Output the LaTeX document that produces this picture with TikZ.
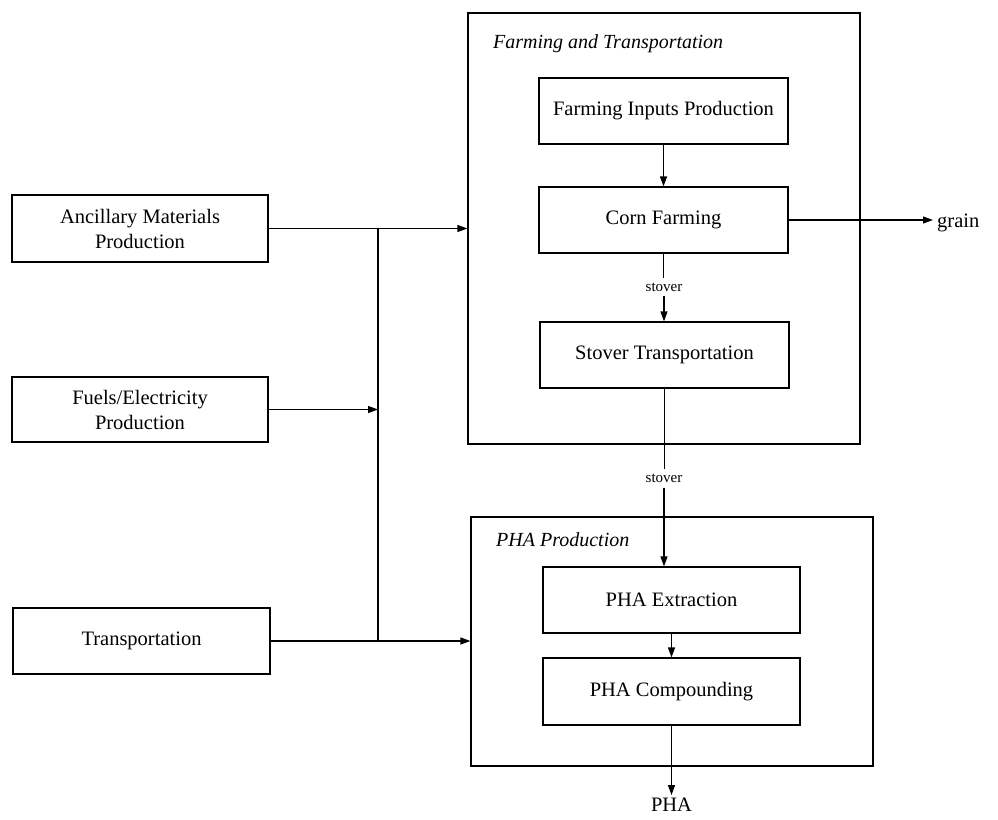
\documentclass[tikz,border=0pt]{standalone}
\usepackage{fontspec}
\setmainfont{Liberation Serif}
\usetikzlibrary{arrows.meta,calc}
\begin{document}
\begin{tikzpicture}[x=1pt,y=-1pt,
  box/.style={draw,line width=1.2pt,inner sep=0pt,align=center,font=\fontsize{20.5}{25}\selectfont},
  group/.style={draw,line width=1.2pt,inner sep=0pt},
  flow/.style={line width=1.2pt,-{Triangle[length=10pt,width=7pt]}},
  plain/.style={line width=1.2pt},
  small/.style={font=\fontsize{15}{18}\selectfont,inner sep=5pt},
  title/.style={font=\fontsize{20}{24}\selectfont\itshape,inner sep=0pt,anchor=base west},
  lab/.style={font=\fontsize{20.5}{25}\selectfont,inner sep=3pt}]
\useasboundingbox (0,0) rectangle (998,819);

% group boxes
\node[group, minimum width=392pt, minimum height=431pt] (ft) at (664,228.5) {};
\node[group, minimum width=402pt, minimum height=249pt] (php) at (672,641.5) {};
\node[title] (t1) at (493,48) {Farming and Transportation};
\node[title] (t2) at (496,546) {PHA Production};

% inner boxes
\node[box, minimum width=249pt, minimum height=66pt] (fip) at (663.5,111) {Farming Inputs Production};
\node[box, minimum width=249pt, minimum height=66pt] (cf) at (663.5,220) {Corn Farming};
\node[box, minimum width=249pt, minimum height=66pt] (st) at (664.5,355) {Stover Transportation};
\node[box, minimum width=257pt, minimum height=66pt] (pe) at (671.5,600) {PHA Extraction};
\node[box, minimum width=257pt, minimum height=67pt] (pc) at (671.5,691.5) {PHA Compounding};

% left boxes
\node[box, minimum width=256pt, minimum height=67pt] (anc) at (140,228.5) {Ancillary Materials\\Production};
\node[box, minimum width=256pt, minimum height=65pt] (fuel) at (140,409.5) {Fuels/Electricity\\Production};
\node[box, minimum width=257pt, minimum height=66pt] (trans) at (141.5,641) {Transportation};

% labels
\node[small] (s1) at (664,287) {stover};
\node[small] (s2) at (664,478) {stover};
\node[lab] (pha) at (671.5,805) {PHA};
\node[lab, inner sep=4pt, anchor=base west] (grain) at (933,227) {grain};

% junctions
\coordinate (j1) at (378,228.5);
\coordinate (j3) at (378,641);

% connectors
\draw[flow] (anc.east) -- (ft.west);
\draw[plain] (j1) -- (j3);
\draw[flow] (fuel.east) -- (fuel.east -| j1);
\draw[flow] (trans.east) -- (trans.east -| php.west);
\draw[flow] (fip.south) -- (cf.north);
\draw[flow] (cf.east) -- (cf.east -| grain.west);
\draw[plain] (cf.south) -- (cf.south |- s1.north);
\draw[flow] (s1.south) -- (s1.south |- st.north);
\draw[plain] (st.south) -- (st.south |- s2.north);
\draw[flow] (s2.south) -- (s2.south |- pe.north);
\draw[flow] (pe.south) -- (pc.north);
\draw[flow] (pc.south) -- (pha.north);
\end{tikzpicture}
\end{document}
